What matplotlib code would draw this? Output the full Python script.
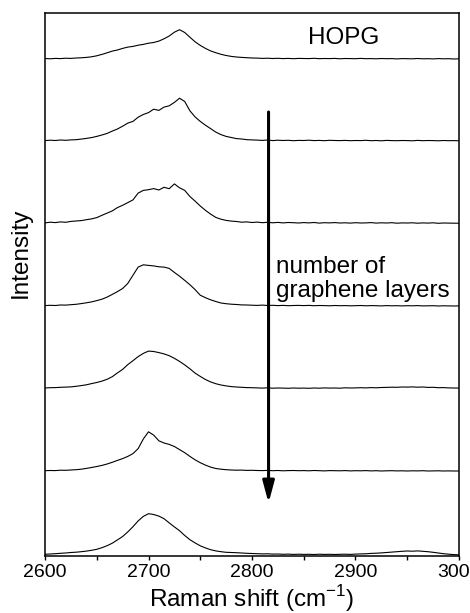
import numpy as np
import matplotlib
matplotlib.use("Agg")
import matplotlib.pyplot as plt

plt.rcParams['font.family'] = ['Liberation Sans', 'DejaVu Sans']

# Raman shift grid (cm^-1), 5 cm^-1 step
shift = np.arange(2600, 3001, 5)

# Intensities (arbitrary units), top (HOPG) to bottom
hopg = [0.5, 0.2, 0.6, 0.4, 0.8, 0.6, 1.0, 1.2, 1.6, 2.2,
        3.2, 4.6, 6.2, 7.9, 9.0, 10.6, 11.9, 12.6, 13.8, 14.6,
        15.8, 16.5, 17.9, 20.2, 23.0, 26.8, 29.3, 26.5, 21.8, 17.2,
        13.6, 10.6, 8.1, 6.3, 4.7, 3.5, 2.6, 2.0, 1.6, 1.3,
        1.0, 0.9, 0.6, 0.8, 0.5, 0.7, 0.4, 0.6, 0.3, 0.6,
        0.5, 0.4, 0.7, 0.3, 0.5, 0.4, 0.6, 0.2, 0.5, 0.4,
        0.3, 0.6, 0.3, 0.4, 0.2, 0.5, 0.3, 0.4, 0.1, 0.4,
        0.3, 0.2, 0.5, 0.2, 0.3, 0.1, 0.4, 0.2, 0.3, 0.0,
        0.2]
layers_b = [0.4, 0.8, 0.5, 1.0, 0.7, 1.1, 1.3, 1.9, 2.6, 3.4,
            4.6, 6.0, 7.6, 9.9, 12.0, 14.8, 17.9, 19.6, 23.8, 26.5,
            28.4, 31.8, 30.6, 33.9, 35.2, 38.6, 42.8, 39.5, 30.2, 24.1,
            19.6, 15.8, 12.4, 8.9, 6.4, 4.6, 3.5, 2.4, 2.0, 1.3,
            1.1, 0.9, 0.6, 1.0, 0.4, 0.8, 0.5, 0.7, 0.3, 0.6,
            0.5, 0.8, 0.4, 0.6, 0.3, 0.7, 0.5, 0.4, 0.6, 0.3,
            0.5, 0.4, 0.7, 0.3, 0.5, 0.2, 0.6, 0.4, 0.3, 0.5,
            0.4, 0.2, 0.6, 0.3, 0.5, 0.4, 0.2, 0.5, 0.3, 0.4,
            0.2]
layers_c = [0.6, 1.3, 0.9, 1.6, 1.2, 2.1, 2.5, 2.9, 3.8, 4.6,
            5.9, 8.2, 10.4, 12.6, 15.9, 18.2, 20.9, 23.6, 30.4, 33.1,
            33.8, 34.9, 33.5, 36.2, 34.8, 39.6, 35.7, 33.1, 27.0, 22.4,
            17.5, 13.2, 9.4, 6.1, 4.3, 3.1, 2.4, 2.0, 1.3, 1.6,
            1.0, 1.4, 0.8, 1.2, 0.7, 1.1, 0.6, 1.0, 0.8, 0.5,
            0.9, 0.6, 1.0, 0.4, 0.8, 0.6, 0.9, 0.5, 0.7, 0.4,
            0.8, 0.5, 0.6, 0.9, 0.4, 0.7, 0.5, 0.8, 0.3, 0.6,
            0.5, 0.7, 0.3, 0.6, 0.4, 0.7, 0.2, 0.5, 0.4, 0.3,
            0.3]
layers_d = [0.4, 0.7, 0.5, 1.0, 0.9, 1.3, 1.7, 2.4, 3.2, 4.1,
            5.4, 6.8, 8.9, 11.6, 14.4, 17.5, 22.6, 30.8, 38.9, 41.2,
            40.6, 40.1, 39.2, 38.9, 37.6, 33.6, 29.8, 25.6, 21.3, 16.4,
            10.8, 8.3, 6.2, 4.5, 3.0, 2.3, 1.8, 1.5, 1.1, 1.0,
            0.8, 0.6, 0.9, 0.5, 0.7, 0.4, 0.6, 0.3, 0.5, 0.6,
            0.4, 0.6, 0.3, 0.5, 0.4, 0.2, 0.5, 0.3, 0.4, 0.2,
            0.3, 0.5, 0.2, 0.4, 0.3, 0.1, 0.4, 0.2, 0.3, 0.1,
            0.3, 0.2, 0.4, 0.1, 0.2, 0.3, 0.0, 0.2, 0.1, 0.0,
            0.1]
layers_e = [0.5, 0.8, 0.9, 1.2, 1.4, 1.6, 2.2, 2.9, 3.7, 4.9,
            6.0, 7.4, 9.2, 11.8, 15.6, 19.1, 23.9, 27.8, 31.9, 35.1,
            37.4, 37.0, 35.9, 34.6, 32.8, 30.2, 27.1, 23.6, 19.7, 15.4,
            12.1, 9.0, 6.6, 4.8, 3.5, 2.6, 1.9, 1.5, 1.2, 0.9,
            0.8, 0.6, 0.4, 0.7, 0.3, 0.5, 0.4, 0.2, 0.5, 0.3,
            0.4, 0.2, 0.5, 0.3, 0.6, 0.4, 0.5, 0.3, 0.7, 0.5,
            0.6, 0.8, 0.6, 0.9, 0.7, 1.0, 1.1, 1.3, 1.2, 1.5,
            1.4, 1.6, 1.3, 1.5, 1.1, 1.2, 0.8, 0.9, 0.6, 0.5,
            0.4]
layers_f = [0.3, 0.5, 0.4, 0.8, 0.7, 1.0, 1.3, 1.8, 2.6, 3.5,
            4.5, 5.6, 7.0, 8.7, 10.6, 12.4, 14.6, 17.4, 22.4, 32.0,
            39.2, 35.9, 30.2, 28.0, 26.6, 24.5, 21.4, 18.3, 14.6, 11.2,
            8.3, 5.9, 3.9, 2.5, 1.8, 1.3, 1.0, 0.8, 0.9, 0.6,
            0.7, 0.5, 0.4, 0.6, 0.3, 0.5, 0.2, 0.4, 0.5, 0.3,
            0.4, 0.2, 0.5, 0.3, 0.1, 0.4, 0.3, 0.2, 0.4, 0.1,
            0.3, 0.2, 0.4, 0.1, 0.3, 0.0, 0.2, 0.3, 0.1, 0.2,
            0.0, 0.2, 0.1, 0.3, 0.0, 0.1, 0.2, 0.0, 0.1, 0.0,
            0.0]
layers_g = [1.0, 1.3, 1.6, 2.0, 2.3, 2.8, 3.1, 3.6, 4.2, 5.0,
            6.0, 7.6, 9.6, 12.1, 15.4, 18.8, 23.4, 28.6, 34.4, 38.9,
            41.6, 40.8, 39.2, 36.6, 32.4, 28.4, 24.6, 19.8, 15.6, 12.4,
            9.5, 7.4, 5.6, 4.4, 3.6, 3.0, 2.8, 2.6, 2.3, 2.0,
            1.8, 1.6, 1.4, 1.5, 1.2, 1.3, 1.0, 1.2, 0.9, 1.1,
            0.9, 1.0, 0.8, 1.1, 0.9, 1.0, 0.8, 1.0, 1.1, 0.9,
            1.2, 1.4, 1.5, 1.9, 2.1, 2.4, 2.8, 3.2, 3.6, 4.0,
            4.3, 4.1, 4.4, 4.0, 3.6, 3.0, 2.3, 1.6, 1.1, 0.7,
            0.5]

spectra = [hopg, layers_b, layers_c, layers_d, layers_e, layers_f, layers_g]
offsets = [497, 415, 332.5, 250, 167.5, 85, 0.7]

xticks = [2600, 2700, 2800, 2900, 3000]
label_hopg = "HOPG"
label_arrow = "number of\ngraphene layers"
arrow_x, arrow_top, arrow_tip = 2816, 444, 53

fig = plt.figure(figsize=(4.70, 6.13), dpi=100)
ax = fig.add_axes([45 / 470, (613 - 556) / 613, 414 / 470, 543 / 613])

for spec, off in zip(spectra, offsets):
    ax.plot(shift, np.array(spec) + off, color='black', lw=0.8)

ax.set_xlim(2600, 3000)
ax.set_ylim(0, 543)
ax.set_xticks(xticks)
ax.set_xticks([2650, 2750, 2850, 2950], minor=True)
ax.set_yticks([])
ax.tick_params(axis='x', which='both', direction='out', length=3, width=1,
               labelsize=14, pad=3)
for s in ax.spines.values():
    s.set_linewidth(1.1)

ax.set_xlabel("Raman shift (cm$^{\\mathregular{-1}}$)", fontsize=17.5, labelpad=1)
ax.set_ylabel("Intensity", fontsize=17.5)
ax.yaxis.set_label_coords(-0.031, 0.558)

ax.text(2854, 518, label_hopg, fontsize=17.5, va='center', ha='left')
ax.text(2823, 277, label_arrow, fontsize=17.5, va='center', ha='left',
        linespacing=1.15)

ax.annotate('', xy=(arrow_x, arrow_tip), xytext=(arrow_x, arrow_top),
            arrowprops=dict(arrowstyle='-|>,head_length=1.3,head_width=0.35',
                            lw=2.2, color='black', shrinkA=0, shrinkB=0))

fig.savefig("out.png", dpi=100)
